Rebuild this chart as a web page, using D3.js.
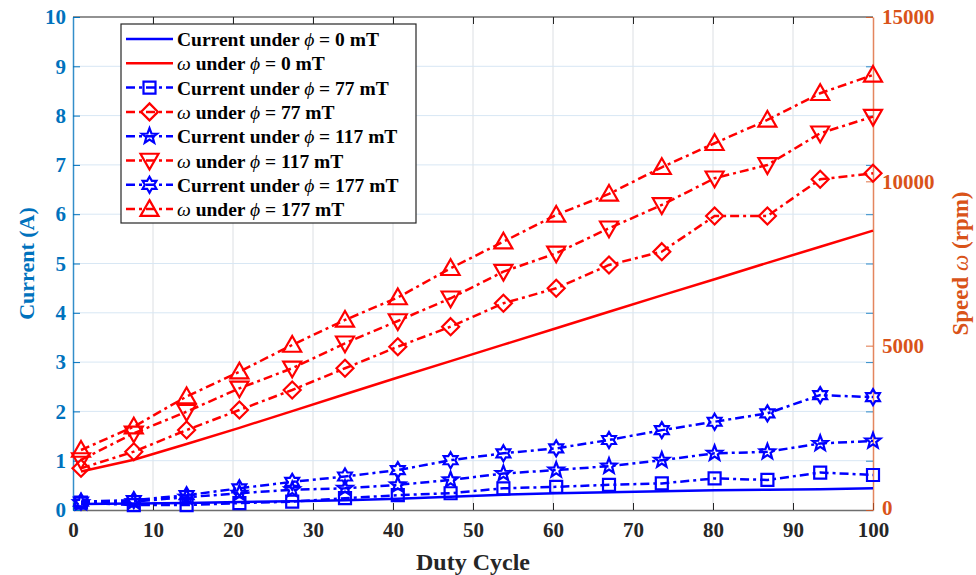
<!DOCTYPE html>
<html>
<head>
<meta charset="utf-8">
<script src="https://cdn.jsdelivr.net/npm/d3@7"></script>
<style>
  body { margin: 0; background: #fff; }
</style>
</head>
<body>
<div id="canvas"></div>
<script>
// duty cycle samples
const duty = [1, 7.6, 14.2, 20.8, 27.4, 34, 40.6, 47.2, 53.8, 60.4, 67, 73.6, 80.2, 86.8, 93.4, 100];

// current (A) - left axis
const cur0   = [0.12, 0.13, 0.14, 0.16, 0.18, 0.20, 0.23, 0.27, 0.31, 0.34, 0.36, 0.38, 0.40, 0.41, 0.42, 0.44];
const cur77  = [0.15, 0.10, 0.10, 0.14, 0.17, 0.24, 0.30, 0.34, 0.44, 0.47, 0.51, 0.54, 0.64, 0.61, 0.76, 0.71];
const cur117 = [0.15, 0.17, 0.26, 0.34, 0.41, 0.44, 0.51, 0.61, 0.74, 0.81, 0.89, 1.01, 1.15, 1.18, 1.35, 1.40];
const cur177 = [0.17, 0.20, 0.30, 0.44, 0.57, 0.68, 0.81, 1.01, 1.15, 1.25, 1.42, 1.62, 1.79, 1.96, 2.33, 2.29];

// speed (rpm) - right axis
const spd0   = [1170, 1530, 2010, 2500, 3010, 3520, 4030, 4530, 5030, 5530, 6030, 6530, 7020, 7520, 8010, 8500];
const spd77  = [1269, 1774, 2434, 3043, 3652, 4312, 4969, 5578, 6290, 6746, 7455, 7860, 8946, 8946, 10063, 10246];
const spd117 = [1522, 2334, 2991, 3703, 4312, 5073, 5751, 6442, 7252, 7811, 8572, 9281, 10094, 10498, 11463, 11968];
const spd177 = [1826, 2535, 3454, 4208, 5021, 5782, 6466, 7355, 8164, 8977, 9616, 10428, 11159, 11868, 12680, 13237];

const xTicks = [0, 10, 20, 30, 40, 50, 60, 70, 80, 90, 100];
const yLeftTicks = [0, 1, 2, 3, 4, 5, 6, 7, 8, 9, 10];
const yRightTicks = [0, 5000, 10000, 15000];

const series = [
  { name: 'cur0',   axis: 'L', vals: cur0,   color: '#0000ff', marker: null,       dash: null, label: ['Current under ', 'ϕ', ' = 0 mT'] },
  { name: 'spd0',   axis: 'R', vals: spd0,   color: '#ff0000', marker: null,       dash: null, label: ['', 'ω', ' under ', 'ϕ', ' = 0 mT'] },
  { name: 'cur77',  axis: 'L', vals: cur77,  color: '#0000ff', marker: 'square',   dash: '9,4,3,4', label: ['Current under ', 'ϕ', ' = 77 mT'] },
  { name: 'spd77',  axis: 'R', vals: spd77,  color: '#ff0000', marker: 'diamond',  dash: '9,4,3,4', label: ['', 'ω', ' under ', 'ϕ', ' = 77 mT'] },
  { name: 'cur117', axis: 'L', vals: cur117, color: '#0000ff', marker: 'pentagram', dash: '9,4,3,4', label: ['Current under ', 'ϕ', ' = 117 mT'] },
  { name: 'spd117', axis: 'R', vals: spd117, color: '#ff0000', marker: 'triDown',  dash: '9,4,3,4', label: ['', 'ω', ' under ', 'ϕ', ' = 117 mT'] },
  { name: 'cur177', axis: 'L', vals: cur177, color: '#0000ff', marker: 'hexagram', dash: '9,4,3,4', label: ['Current under ', 'ϕ', ' = 177 mT'] },
  { name: 'spd177', axis: 'R', vals: spd177, color: '#ff0000', marker: 'triUp',    dash: '9,4,3,4', label: ['', 'ω', ' under ', 'ϕ', ' = 177 mT'] }
];

const width = 976, height = 575;
const pLeft = 73, pRight = 873, pTop = 17, pBottom = 510;
const blue = '#0072BD', orange = '#D95319', dark = '#262626';
const serifFont = '"Liberation Serif", "Times New Roman", serif';

const svg = d3.select('#canvas').append('svg')
  .attr('width', width).attr('height', height);

const x = d3.scaleLinear().domain([0, 100]).range([pLeft, pRight]);
const yL = d3.scaleLinear().domain([0, 10]).range([pBottom, pTop]);
const yR = d3.scaleLinear().domain([0, 15000]).range([pBottom, pTop]);

// custom marker shapes (size = half width in px)
function star(ctx, R, r, n, rot) {
  for (let i = 0; i < 2 * n; i++) {
    const a = rot + i * Math.PI / n;
    const rr = i % 2 === 0 ? R : r;
    const px = rr * Math.sin(a), py = -rr * Math.cos(a);
    i === 0 ? ctx.moveTo(px, py) : ctx.lineTo(px, py);
  }
  ctx.closePath();
}
const shapes = {
  square: { draw(ctx, s) { ctx.rect(-s, -s, 2 * s, 2 * s); } },
  diamond: { draw(ctx, s) { ctx.moveTo(0, -s); ctx.lineTo(s, 0); ctx.lineTo(0, s); ctx.lineTo(-s, 0); ctx.closePath(); } },
  triUp: { draw(ctx, s) { ctx.moveTo(0, -s); ctx.lineTo(s, s * 0.75); ctx.lineTo(-s, s * 0.75); ctx.closePath(); } },
  triDown: { draw(ctx, s) { ctx.moveTo(0, s); ctx.lineTo(s, -s * 0.75); ctx.lineTo(-s, -s * 0.75); ctx.closePath(); } },
  pentagram: { draw(ctx, s) { star(ctx, s, s * 0.42, 5, 0); } },
  hexagram: { draw(ctx, s) { star(ctx, s, s * 0.58, 6, 0); } }
};
const markerSize = { square: 6, diamond: 8.5, triUp: 9, triDown: 9, pentagram: 8, hexagram: 8 };

function serif(sel, size) {
  return sel.style('font-family', serifFont).style('font-weight', 'bold').style('font-size', size + 'px');
}

// grid
const grid = svg.append('g');
grid.selectAll('.vg').data(xTicks.slice(1, -1)).enter().append('line')
  .attr('x1', d => x(d)).attr('x2', d => x(d))
  .attr('y1', pTop).attr('y2', pBottom)
  .attr('stroke', '#dcdfe3').attr('stroke-width', 1);
grid.selectAll('.hg').data(yLeftTicks.slice(1, -1)).enter().append('line')
  .attr('x1', pLeft).attr('x2', pRight)
  .attr('y1', d => yL(d)).attr('y2', d => yL(d))
  .attr('stroke', '#d8e7f4').attr('stroke-width', 1);

// box top
svg.append('line').attr('x1', pLeft).attr('x2', pRight).attr('y1', pTop).attr('y2', pTop)
  .attr('stroke', '#6e6e6e').attr('stroke-width', 1.5);

// axes
const ax = svg.append('g').attr('transform', `translate(0,${pBottom})`)
  .call(d3.axisBottom(x).tickValues(xTicks).tickSize(-7).tickPadding(12).tickSizeOuter(0));
ax.select('.domain').attr('stroke', '#6e6e6e').attr('stroke-width', 1.5);
ax.selectAll('.tick line').attr('stroke', dark);
serif(ax.selectAll('.tick text').attr('fill', dark), 21);

const axTop = svg.append('g').attr('transform', `translate(0,${pTop})`)
  .call(d3.axisTop(x).tickValues(xTicks.slice(1, -1)).tickSize(-7).tickFormat('').tickSizeOuter(0));
axTop.select('.domain').remove();
axTop.selectAll('.tick line').attr('stroke', dark);

const aL = svg.append('g').attr('transform', `translate(${pLeft},0)`)
  .call(d3.axisLeft(yL).tickValues(yLeftTicks).tickSize(-7).tickPadding(7).tickSizeOuter(0));
aL.select('.domain').attr('stroke', blue).attr('stroke-opacity', 0.8).attr('stroke-width', 1.5);
aL.selectAll('.tick line').attr('stroke', blue);
serif(aL.selectAll('.tick text').attr('fill', blue), 21);

// blue ticks mirrored on right side
const aLr = svg.append('g').attr('transform', `translate(${pRight},0)`)
  .call(d3.axisRight(yL).tickValues(yLeftTicks.slice(1, -1)).tickSize(-7).tickFormat('').tickSizeOuter(0));
aLr.select('.domain').remove();
aLr.selectAll('.tick line').attr('stroke', blue).attr('stroke-opacity', 0.8);

const aR = svg.append('g').attr('transform', `translate(${pRight},0)`)
  .call(d3.axisRight(yR).tickValues(yRightTicks).tickFormat(d3.format('d')).tickSize(-7).tickPadding(9).tickSizeOuter(0));
aR.select('.domain').attr('stroke', orange).attr('stroke-opacity', 0.7).attr('stroke-width', 1.5);
aR.selectAll('.tick line').attr('stroke', orange).attr('stroke-opacity', 0.8);
serif(aR.selectAll('.tick text').attr('fill', orange), 21);
aR.selectAll('.tick text').filter(d => d === 0).attr('dy', '0.2em');

// axis titles
serif(svg.append('text'), 24).attr('x', (pLeft + pRight) / 2).attr('y', 562)
  .attr('text-anchor', 'middle').attr('dominant-baseline', 'central')
  .attr('fill', dark).text('Duty Cycle');
serif(svg.append('text'), 22).attr('transform', `translate(26,${(pTop + pBottom) / 2}) rotate(-90)`)
  .attr('text-anchor', 'middle').attr('dominant-baseline', 'central')
  .attr('fill', blue).text('Current (A)');
const rt = serif(svg.append('text'), 23).attr('transform', `translate(960,${(pTop + pBottom) / 2}) rotate(-90)`)
  .attr('text-anchor', 'middle').attr('dominant-baseline', 'central')
  .attr('fill', orange);
rt.append('tspan').text('Speed ');
rt.append('tspan').style('font-style', 'italic').style('font-weight', 'normal').text('ω');
rt.append('tspan').text(' (rpm)');

// series
const plot = svg.append('g');
series.forEach(s => {
  const yS = s.axis === 'L' ? yL : yR;
  const pts = duty.map((d, i) => [d, s.vals[i]]);
  const line = d3.line().x(d => x(d[0])).y(d => yS(d[1]));
  plot.append('path').datum(pts)
    .attr('d', line).attr('fill', 'none')
    .attr('stroke', s.color).attr('stroke-width', 2.5)
    .attr('stroke-dasharray', s.dash);
  if (s.marker) {
    const sym = d3.symbol().type(shapes[s.marker]).size(markerSize[s.marker]);
    plot.selectAll(null).data(pts).enter().append('path')
      .attr('transform', d => `translate(${x(d[0])},${yS(d[1])})`)
      .attr('d', sym).attr('fill', 'none')
      .attr('stroke', s.color).attr('stroke-width', 2.2);
  }
});

// legend
const lg = svg.append('g');
lg.append('rect').attr('x', 121).attr('y', 24).attr('width', 295).attr('height', 199)
  .attr('fill', '#fff').attr('stroke', dark).attr('stroke-width', 1.2);
series.forEach((s, i) => {
  const cy = 39 + i * 24.3;
  lg.append('line').attr('x1', 126).attr('x2', 173).attr('y1', cy).attr('y2', cy)
    .attr('stroke', s.color).attr('stroke-width', 2.5).attr('stroke-dasharray', s.dash);
  if (s.marker) {
    lg.append('path').attr('transform', `translate(149.5,${cy})`)
      .attr('d', d3.symbol().type(shapes[s.marker]).size(markerSize[s.marker]))
      .attr('fill', 'none').attr('stroke', s.color).attr('stroke-width', 2.2);
  }
  const t = serif(lg.append('text'), 19.5).attr('x', 177).attr('y', cy).attr('dominant-baseline', 'central')
    .attr('fill', '#000');
  s.label.forEach(part => {
    if (part === 'ϕ' || part === 'ω') {
      t.append('tspan').style('font-style', 'italic').style('font-weight', 'normal').text(part);
    } else if (part) {
      t.append('tspan').text(part);
    }
  });
});
</script>
</body>
</html>
